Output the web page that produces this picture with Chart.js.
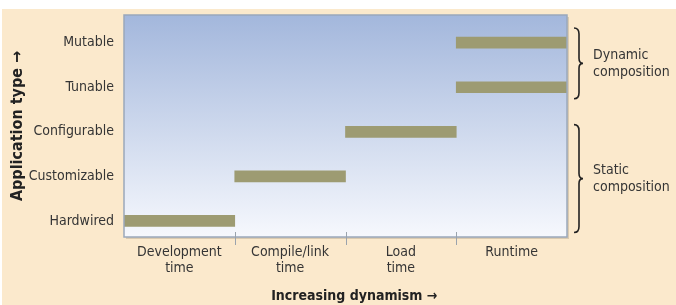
<!DOCTYPE html>
<html>
<head>
<meta charset="utf-8">
<script src="https://cdn.jsdelivr.net/npm/chart.js@4.4.0/dist/chart.umd.min.js"></script>
<style>
  html, body { margin: 0; padding: 0; background: #fff; }
  #wrap { width: 676px; height: 305px; }
</style>
</head>
<body>
<div id="wrap"><canvas id="chart" width="676" height="305"></canvas></div>
<script>
// Application types, bottom to top
const appTypes = ['Hardwired', 'Customizable', 'Configurable', 'Tunable', 'Mutable'];
// Binding phases along the x axis
const phases = [['Development', 'time'], ['Compile/link', 'time'], ['Load', 'time'], ['Runtime']];
// Phase span (start, end) for each app type
const spanStart = [0, 1, 2, 3, 3];
const spanEnd = [1, 2, 3, 4, 4];
// Brace groups: label lines, lowest and highest app type index
const groupLabels = [['Static', 'composition'], ['Dynamic', 'composition']];
const groupFrom = [0, 3];
const groupTo = [2, 4];

const FONT = '"Liberation Sans Narrow", "DejaVu Sans Condensed", "Liberation Sans", sans-serif';
const TEXT = '#353535';

// Page background, plot gradient and frame
const backdrop = {
    id: 'backdrop',
    beforeDraw(chart) {
        const { ctx, chartArea: a } = chart;
        ctx.save();
        ctx.fillStyle = '#ffffff';
        ctx.fillRect(0, 0, chart.width, chart.height);
        ctx.fillStyle = '#fbe9cc';
        ctx.fillRect(2, 9, chart.width - 2, chart.height - 9);
        // soft shadow
        ctx.fillStyle = 'rgba(120,110,90,0.25)';
        ctx.fillRect(a.left + 2, a.top + 2, a.width, a.height);
        const g = ctx.createLinearGradient(0, a.top, 0, a.bottom);
        g.addColorStop(0, '#a3b7dc');
        g.addColorStop(1, '#f6f8fd');
        ctx.fillStyle = g;
        ctx.fillRect(a.left, a.top, a.width, a.height);
        ctx.restore();
    },
    afterDatasetsDraw(chart) {
        const { ctx, chartArea: a } = chart;
        const x = chart.scales.x;
        ctx.save();
        ctx.strokeStyle = '#9aa8bb';
        ctx.lineWidth = 1.5;
        ctx.strokeRect(a.left, a.top, a.width, a.height);
        // phase boundary ticks
        ctx.strokeStyle = '#9aa3ad';
        ctx.lineWidth = 1;
        for (let i = 1; i < phases.length; i++) {
            const px = Math.round(x.getPixelForValue(i)) + 0.5;
            ctx.beginPath();
            ctx.moveTo(px, a.bottom - 5);
            ctx.lineTo(px, a.bottom + 8);
            ctx.stroke();
        }
        ctx.restore();
    }
};

// Curly braces with group labels on the right
const braces = {
    id: 'braces',
    afterDraw(chart) {
        const { ctx, chartArea: a } = chart;
        const y = chart.scales.y;
        ctx.save();
        ctx.strokeStyle = '#222';
        ctx.lineWidth = 1.6;
        groupLabels.forEach((lines, i) => {
            // top group reaches above its bar, lower group starts just over it
            const top = y.getPixelForValue(groupTo[i] + (i === groupLabels.length - 1 ? 0.33 : 0.16));
            const bot = y.getPixelForValue(groupFrom[i] - 0.26);
            const mid = (top + bot) / 2;
            const x0 = a.right + 7, x1 = a.right + 12, x2 = a.right + 16;
            ctx.beginPath();
            ctx.moveTo(x0, top);
            ctx.quadraticCurveTo(x1, top, x1, top + 6);
            ctx.lineTo(x1, mid - 5);
            ctx.quadraticCurveTo(x1, mid, x2, mid);
            ctx.quadraticCurveTo(x1, mid, x1, mid + 5);
            ctx.lineTo(x1, bot - 6);
            ctx.quadraticCurveTo(x1, bot, x0, bot);
            ctx.stroke();

            ctx.fillStyle = TEXT;
            ctx.font = '14px ' + FONT;
            ctx.textAlign = 'left';
            ctx.textBaseline = 'middle';
            const lh = 17;
            lines.forEach((t, k) => {
                ctx.fillText(t, a.right + 26, mid + (k - (lines.length - 1) / 2) * lh);
            });
        });
        ctx.restore();
    }
};

new Chart(document.getElementById('chart'), {
    type: 'bar',
    data: {
        datasets: [{
            data: appTypes.map((t, i) => ({ x: [spanStart[i], spanEnd[i]], y: i })),
            backgroundColor: '#9d9b72',
            borderWidth: 0,
            barThickness: 11,
            borderSkipped: false
        }]
    },
    options: {
        indexAxis: 'y',
        responsive: false,
        animation: false,
        layout: { padding: { left: 0, right: 109, top: 15, bottom: 0 } },
        plugins: { legend: { display: false }, tooltip: { enabled: false } },
        scales: {
            x: {
                type: 'linear',
                min: 0,
                max: phases.length,
                grid: { display: false, drawTicks: false },
                border: { display: false },
                afterBuildTicks(scale) {
                    scale.ticks = phases.map((p, i) => ({ value: i + 0.5 }));
                },
                afterFit(scale) {
                    scale.height = 68;
                    scale.paddingLeft = 0;
                    scale.paddingRight = 0;
                },
                ticks: {
                    callback: (v) => phases[Math.floor(v)],
                    color: TEXT,
                    padding: 7,
                    maxRotation: 0,
                    autoSkip: false,
                    font: { family: FONT, size: 14, lineHeight: 1.15 }
                },
                title: {
                    display: true,
                    text: '\u2007\u2007Increasing dynamism \u2192',
                    color: '#222',
                    padding: { top: 10, bottom: 0 },
                    font: { family: FONT, size: 14, weight: 'bold' }
                }
            },
            y: {
                type: 'linear',
                offset: false,
                min: -0.36,
                max: 4.62,
                grid: { display: false, drawTicks: false },
                border: { display: false },
                afterBuildTicks(scale) {
                    scale.ticks = appTypes.map((t, i) => ({ value: i }));
                },
                afterFit(scale) {
                    scale.width = 124;
                    scale.paddingTop = 0;
                    scale.paddingBottom = 0;
                },
                ticks: {
                    callback: (v) => appTypes[v],
                    color: TEXT,
                    padding: 10,
                    autoSkip: false,
                    font: { family: FONT, size: 14 }
                },
                title: {
                    display: true,
                    text: 'Application type \u2192',
                    color: '#222',
                    padding: { top: 8, bottom: 0 },
                    font: { family: FONT, size: 16, weight: 'bold' }
                }
            }
        }
    },
    plugins: [backdrop, braces]
});
</script>
</body>
</html>
